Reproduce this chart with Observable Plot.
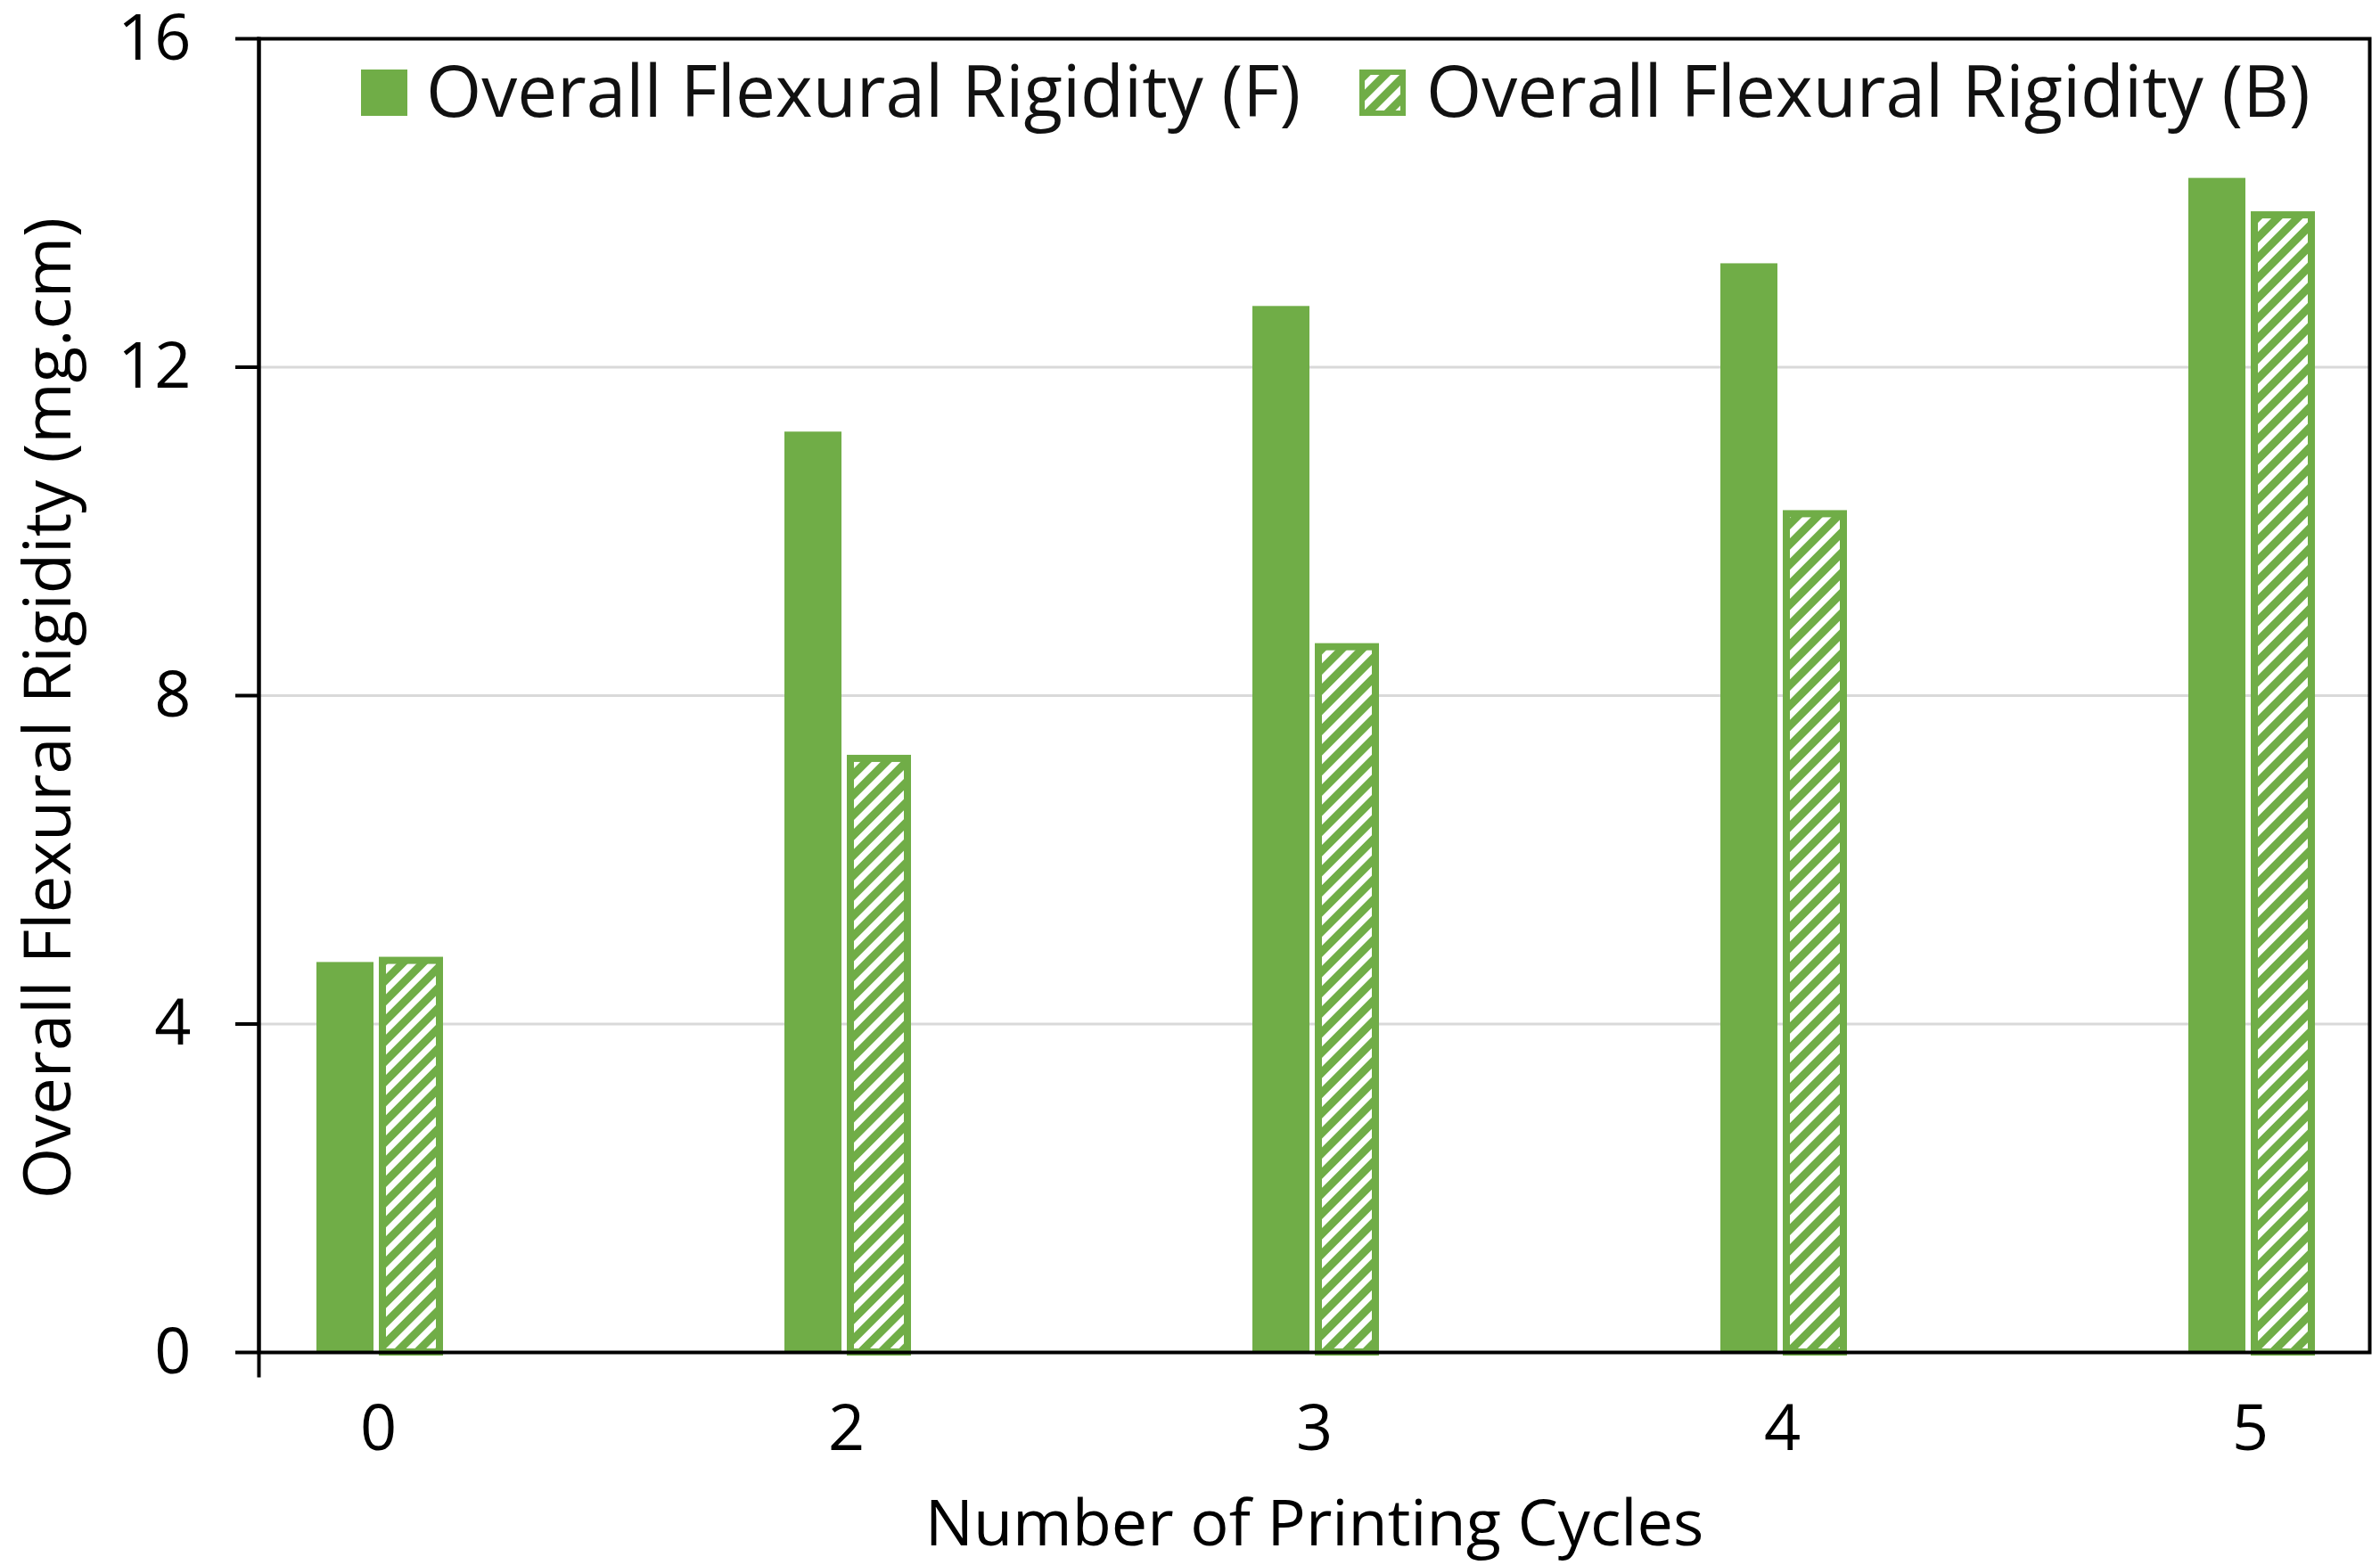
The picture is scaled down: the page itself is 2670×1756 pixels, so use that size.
<!DOCTYPE html>
<html><head><meta charset="utf-8">
<script src="https://cdn.jsdelivr.net/npm/d3@7"></script>
<script src="https://cdn.jsdelivr.net/npm/@observablehq/plot@0.6"></script>
<style>
html,body{margin:0;padding:0;background:#fff;}
#wrap{position:relative;width:2670px;height:1756px;font-family:"Open Sans",sans-serif;color:#000;}
.lg-sw{position:absolute;}
.lg-tx{position:absolute;font-size:80px;line-height:80px;white-space:nowrap;color:#111;}
</style></head><body><div id="wrap"></div>
<script>
// ---- data ----
const cycles = ["0", "2", "3", "4", "5"];
const flexF = [4.75, 11.21, 12.74, 13.26, 14.30];
const flexB = [4.77, 7.23, 8.59, 10.21, 13.85];
const seriesNames = ["Overall Flexural Rigidity (F)", "Overall Flexural Rigidity (B)"];
const yTicks = [0, 4, 8, 12, 16];
const gridTicks = [4, 8, 12];
const xTitle = "Number of Printing Cycles";
const yTitle = "Overall Flexural Rigidity (mg.cm)";
const green = "#70AD47";

const rowsF = cycles.map((c, i) => ({cycle: c, value: flexF[i], series: seriesNames[0]}));
const rowsB = cycles.map((c, i) => ({cycle: c, value: flexB[i], series: seriesNames[1]}));

const plot = Plot.plot({
  width: 2670, height: 1756,
  marginLeft: 290, marginRight: 12, marginTop: 43, marginBottom: 239,
  style: {fontFamily: "'Open Sans', sans-serif", fontSize: "72px", color: "#000", background: "#fff", overflow: "visible"},
  x: {domain: cycles, paddingInner: 0.7375, paddingOuter: 0.121, label: null},
  y: {domain: [0, 16], label: null},
  marks: [
    Plot.gridY(gridTicks, {stroke: "#d9d9d9", strokeOpacity: 1, strokeWidth: 3}),
    Plot.barY(rowsF, {x: "cycle", y: "value", fill: green, insetLeft: 0, insetRight: 74}),
    Plot.barY(rowsB, {x: "cycle", y: "value", fill: "url(#hatchB)", stroke: green, strokeWidth: 8, insetLeft: 74, insetRight: 0}),
    Plot.axisY(yTicks, {tickSize: 26, tickPadding: 50, strokeWidth: 4, fontSize: 72, tickFormat: d => String(d), label: null}),
    Plot.text([yTitle], {frameAnchor: "left", text: d => d, rotate: -90, textAnchor: "middle", lineAnchor: "top", dx: -264, dy: 14, fontSize: 74, fill: "#000"}),
    Plot.axisX({tickSize: 0, tickPadding: 58, fontSize: 72, label: xTitle, labelArrow: "none", labelAnchor: "center", labelOffset: 216}),
    Plot.frame({stroke: "#000", strokeWidth: 4}),
    Plot.frame({anchor: "left", insetBottom: -26, stroke: "#000", strokeWidth: 4})
  ]
});

const ns = "http://www.w3.org/2000/svg";
const defs = document.createElementNS(ns, "defs");
defs.innerHTML = `<pattern id="hatchB" patternUnits="userSpaceOnUse" width="16" height="16" patternTransform="rotate(45)"><rect width="16" height="16" fill="${green}"/><rect width="7" height="16" fill="#fff"/></pattern>`;
plot.insertBefore(defs, plot.firstChild);

const wrap = document.getElementById("wrap");
wrap.appendChild(plot);

// ---- legend overlay ----
function addSwatch(left, top, hatched) {
  const s = document.createElementNS(ns, "svg");
  s.setAttribute("width", 56); s.setAttribute("height", 56);
  s.setAttribute("class", "lg-sw");
  s.style.left = (left - 2) + "px"; s.style.top = (top - 2) + "px";
  if (hatched) {
    s.innerHTML = `<rect x="5" y="5" width="46" height="46" fill="url(#hatchB)" stroke="${green}" stroke-width="6"/>`;
  } else {
    s.innerHTML = `<rect x="2" y="2" width="52" height="52" fill="${green}"/>`;
  }
  wrap.appendChild(s);
}
function addText(left, top, txt) {
  const d = document.createElement("div");
  d.className = "lg-tx";
  d.style.left = left + "px"; d.style.top = top + "px";
  d.textContent = txt;
  wrap.appendChild(d);
}
addSwatch(405, 78, false);
addText(478, 60, seriesNames[0]);
addSwatch(1525, 78, true);
addText(1600, 60, seriesNames[1]);
</script>
</body></html>
